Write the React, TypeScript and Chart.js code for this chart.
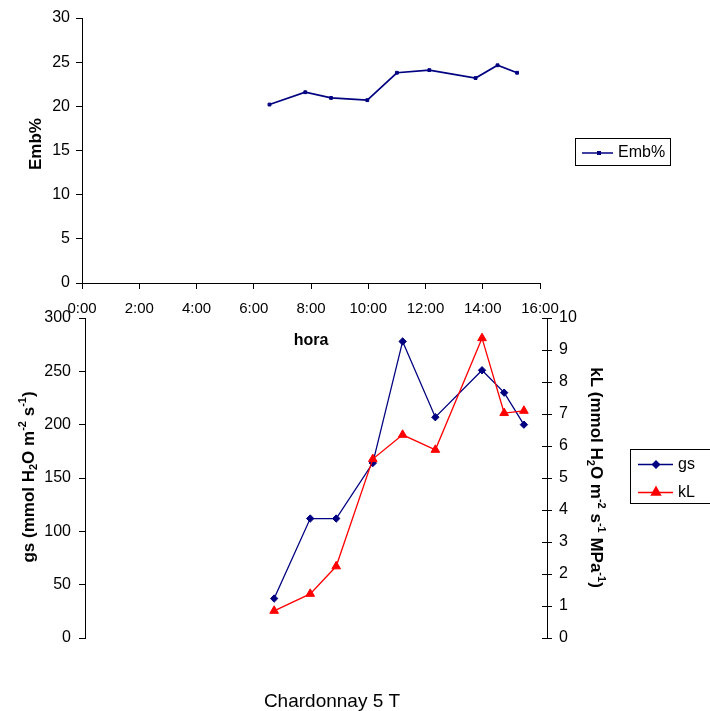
import React, { useEffect, useRef } from 'react';
import { Chart, registerables } from 'chart.js';
Chart.register(...registerables);

// ---------- data ----------
const TIMES = ['6:33', '7:48', '8:42', '9:58', '11:00', '12:08', '13:45', '14:31', '15:12'];
const EMB = [20.2, 21.6, 20.95, 20.7, 23.8, 24.1, 23.2, 24.65, 23.8];
const GS = [37, 112, 112, 164, 278, 207, 251, 230, 200];
const KL = [0.85, 1.38, 2.24, 5.59, 6.35, 5.88, 9.37, 7.03, 7.1];

const HOUR_MIN = 0;
const HOUR_MAX = 16;
const HOUR_STEP = 2;
const EMB_RANGE = [0, 30, 5];
const GS_RANGE = [0, 300, 50];
const KL_RANGE = [0, 10, 1];

const CAPTION = 'Chardonnay 5 T';

// ---------- styles ----------
const FONT = '"Liberation Sans", Arial, Helvetica, sans-serif';
const NAVY = '#000080';
const RED = '#FF0000';

const toHours = (t: string) => {
  const [h, m] = t.split(':').map(Number);
  return h + m / 60;
};

type Seg = { t: string; k?: 'sub' | 'sup' };

function drawRich(ctx: CanvasRenderingContext2D, segs: Seg[], cx: number, cy: number, rot: number, size: number, bold: boolean) {
  ctx.save();
  ctx.translate(cx, cy);
  ctx.rotate(rot);
  ctx.fillStyle = '#000';
  ctx.textBaseline = 'alphabetic';
  ctx.textAlign = 'left';
  const w = bold ? 'bold ' : '';
  const fontFor = (s: Seg) => `${w}${s.k ? Math.round(size * 0.62) : size}px ${FONT}`;
  let total = 0;
  for (const s of segs) {
    ctx.font = fontFor(s);
    total += ctx.measureText(s.t).width;
  }
  let x = -total / 2;
  const base = size * 0.36;
  for (const s of segs) {
    ctx.font = fontFor(s);
    const off = s.k === 'sub' ? size * 0.22 : s.k === 'sup' ? -size * 0.42 : 0;
    ctx.fillText(s.t, x, base + off);
    x += ctx.measureText(s.t).width;
  }
  ctx.restore();
}

function diamond(ctx: CanvasRenderingContext2D, x: number, y: number, r: number, c: string) {
  ctx.beginPath();
  ctx.moveTo(x - r, y);
  ctx.lineTo(x, y - r);
  ctx.lineTo(x + r, y);
  ctx.lineTo(x, y + r);
  ctx.closePath();
  ctx.fillStyle = c;
  ctx.fill();
}
function triangle(ctx: CanvasRenderingContext2D, x: number, y: number, r: number, c: string) {
  ctx.beginPath();
  ctx.moveTo(x, y - r);
  ctx.lineTo(x + r * 0.95, y + r * 0.7);
  ctx.lineTo(x - r * 0.95, y + r * 0.7);
  ctx.closePath();
  ctx.fillStyle = c;
  ctx.fill();
}

function legendLine(ctx: CanvasRenderingContext2D, x1: number, x2: number, y: number, c: string) {
  ctx.beginPath();
  ctx.moveTo(x1, y);
  ctx.lineTo(x2, y);
  ctx.strokeStyle = c;
  ctx.lineWidth = 1.5;
  ctx.stroke();
}

function legendText(ctx: CanvasRenderingContext2D, t: string, x: number, y: number) {
  ctx.fillStyle = '#000';
  ctx.font = `16px ${FONT}`;
  ctx.textAlign = 'left';
  ctx.textBaseline = 'middle';
  ctx.fillText(t, x, y);
}

const axisStyle = (tickSize: number, pad: number) => ({
  grid: { display: true, drawOnChartArea: false, drawTicks: true, tickLength: 6, color: '#000', lineWidth: 1 },
  border: { display: true, color: '#000', width: 1 },
  ticks: { color: '#000', padding: pad, font: { family: FONT, size: tickSize } },
});

const topDecor = {
  id: 'topDecor',
  afterDraw(chart: any) {
    const ctx: CanvasRenderingContext2D = chart.ctx;
    const a = chart.chartArea;
    drawRich(ctx, [{ t: 'Emb%' }], 35, 144, -Math.PI / 2, 17, true);
    drawRich(ctx, [{ t: 'hora' }], (a.left + a.right) / 2, 339, 0, 16, true);
    ctx.save();
    ctx.strokeStyle = '#000';
    ctx.lineWidth = 1;
    ctx.strokeRect(575.5, 138.5, 95, 27);
    legendLine(ctx, 582, 613, 153, NAVY);
    ctx.fillStyle = NAVY;
    ctx.fillRect(597, 151, 4, 4);
    legendText(ctx, 'Emb%', 618, 153);
    ctx.restore();
  },
};

const bottomDecor = {
  id: 'bottomDecor',
  afterDraw(chart: any) {
    const ctx: CanvasRenderingContext2D = chart.ctx;
    // inner half of the cross ticks on the right axis
    const s = chart.scales.y1;
    ctx.save();
    ctx.strokeStyle = '#000';
    ctx.lineWidth = 1;
    for (const t of s.ticks) {
      const py = Math.round(s.getPixelForValue(t.value)) + 0.5;
      ctx.beginPath();
      ctx.moveTo(s.left - 5, py);
      ctx.lineTo(s.left, py);
      ctx.stroke();
    }
    ctx.restore();

    drawRich(
      ctx,
      [{ t: 'gs (mmol H' }, { t: '2', k: 'sub' }, { t: 'O m' }, { t: '-2', k: 'sup' }, { t: ' s' }, { t: '-1', k: 'sup' }, { t: ')' }],
      27.5, 477, -Math.PI / 2, 17, true
    );
    drawRich(
      ctx,
      [
        { t: 'kL (mmol H' }, { t: '2', k: 'sub' }, { t: 'O m' }, { t: '-2', k: 'sup' }, { t: ' s' }, { t: '-1', k: 'sup' },
        { t: ' MPa' }, { t: '-1', k: 'sup' }, { t: ')' },
      ],
      597, 477.5, Math.PI / 2, 17, true
    );
    ctx.save();
    ctx.strokeStyle = '#000';
    ctx.lineWidth = 1;
    ctx.strokeRect(630.5, 449.5, 100, 54);
    legendLine(ctx, 638, 673, 464.5, NAVY);
    diamond(ctx, 656, 464.5, 4.5, NAVY);
    legendText(ctx, 'gs', 678, 464.5);
    legendLine(ctx, 638, 673, 492.5, RED);
    triangle(ctx, 656, 491.5, 6, RED);
    legendText(ctx, 'kL', 678, 492.5);
    ctx.fillStyle = '#000';
    ctx.font = `19px ${FONT}`;
    ctx.textAlign = 'center';
    ctx.textBaseline = 'alphabetic';
    ctx.fillText(CAPTION, 332, 707);
    ctx.restore();
  },
};

export default function App() {
  const topRef = useRef<HTMLCanvasElement>(null);
  const botRef = useRef<HTMLCanvasElement>(null);

  useEffect(() => {
    const hours = TIMES.map(toHours);

    const bottom = new Chart(botRef.current as HTMLCanvasElement, {
      type: 'line',
      data: {
        datasets: [
          {
            label: 'kL',
            data: KL.map((v, i) => ({ x: hours[i], y: v })),
            yAxisID: 'y1',
            borderColor: RED,
            backgroundColor: RED,
            borderWidth: 1.3,
            pointStyle: 'triangle',
            pointRadius: 5,
            pointBorderWidth: 1,
            pointBackgroundColor: RED,
            pointBorderColor: RED,
            tension: 0,
          },
          {
            label: 'gs',
            data: GS.map((v, i) => ({ x: hours[i], y: v })),
            yAxisID: 'y',
            borderColor: NAVY,
            backgroundColor: NAVY,
            borderWidth: 1.3,
            pointStyle: 'rectRot',
            pointRadius: 3.7,
            pointBorderWidth: 1,
            pointBackgroundColor: NAVY,
            pointBorderColor: NAVY,
            tension: 0,
          },
        ],
      },
      options: {
        animation: false,
        responsive: false,
        layout: { padding: { top: 318, bottom: 73, left: 0, right: 0 } },
        plugins: { legend: { display: false }, tooltip: { enabled: false } },
        scales: {
          x: { type: 'linear', min: HOUR_MIN, max: HOUR_MAX, display: false },
          y: {
            position: 'left',
            min: GS_RANGE[0],
            max: GS_RANGE[1],
            ...axisStyle(16, 8),
            ticks: { ...axisStyle(16, 8).ticks, stepSize: GS_RANGE[2] },
            afterFit: (s: any) => { s.width = 85; },
          },
          y1: {
            position: 'right',
            min: KL_RANGE[0],
            max: KL_RANGE[1],
            ...axisStyle(16, 7),
            grid: { ...axisStyle(16, 7).grid, tickLength: 5 },
            ticks: { ...axisStyle(16, 7).ticks, stepSize: KL_RANGE[2] },
            afterFit: (s: any) => { s.width = 163; },
          },
        },
      } as any,
      plugins: [bottomDecor],
    });

    const top = new Chart(topRef.current as HTMLCanvasElement, {
      type: 'line',
      data: {
        datasets: [
          {
            label: 'Emb%',
            data: EMB.map((v, i) => ({ x: hours[i], y: v })),
            borderColor: NAVY,
            backgroundColor: NAVY,
            borderWidth: 1.7,
            pointStyle: 'rect',
            pointRadius: 2,
            pointBorderWidth: 1,
            pointBackgroundColor: NAVY,
            pointBorderColor: NAVY,
            tension: 0,
          },
        ],
      },
      options: {
        animation: false,
        responsive: false,
        layout: { padding: { top: 18, bottom: 388, left: 0, right: 170 } },
        plugins: { legend: { display: false }, tooltip: { enabled: false } },
        scales: {
          x: {
            type: 'linear',
            min: HOUR_MIN,
            max: HOUR_MAX,
            ...axisStyle(15, 11),
            ticks: {
              ...axisStyle(15, 11).ticks,
              stepSize: HOUR_STEP,
              autoSkip: false,
              maxRotation: 0,
              callback: (v: any) => `${Math.round(Number(v))}:00`,
            },
            afterFit: (s: any) => { s.height = 40; },
          },
          y: {
            position: 'left',
            min: EMB_RANGE[0],
            max: EMB_RANGE[1],
            ...axisStyle(16, 6),
            ticks: { ...axisStyle(16, 6).ticks, stepSize: EMB_RANGE[2] },
            afterFit: (s: any) => { s.width = 82; },
          },
        },
      } as any,
      plugins: [topDecor],
    });

    return () => {
      top.destroy();
      bottom.destroy();
    };
  }, []);

  return (
    <div style={{ position: 'absolute', left: 0, top: 0, width: 710, height: 711 }}>
      <canvas ref={botRef} width={710} height={711} style={{ position: 'absolute', left: 0, top: 0 }} />
      <canvas ref={topRef} width={710} height={711} style={{ position: 'absolute', left: 0, top: 0 }} />
    </div>
  );
}
